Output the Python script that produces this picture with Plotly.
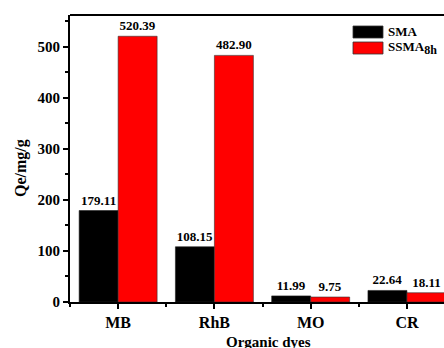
import plotly.graph_objects as go

categories = ["MB", "RhB", "MO", "CR"]
sma = [179.11, 108.15, 11.99, 22.64]
ssma = [520.39, 482.90, 9.75, 18.11]
y_ticks = [0, 100, 200, 300, 400, 500]

xpos = list(range(len(categories)))
FONT = "Liberation Serif, Times New Roman, serif"

fig = go.Figure()
fig.add_trace(go.Bar(x=xpos, y=sma, name="SMA", marker=dict(color="black", line=dict(color="#222", width=0.6)),
                     text=[f"{v:.2f}" for v in sma], textposition="outside", cliponaxis=False,
                     textfont=dict(family=FONT, size=13, color="black", weight="bold")))
fig.add_trace(go.Bar(x=xpos, y=ssma, name="SSMA<sub>8h</sub>", marker=dict(color="#ff0000", line=dict(color="#333", width=0.6)),
                     text=[f"{v:.2f}" for v in ssma], textposition="outside", cliponaxis=False,
                     textfont=dict(family=FONT, size=13, color="black", weight="bold")))

fig.update_layout(
    width=444, height=348,
    margin=dict(l=70, r=0, t=15, b=46),
    paper_bgcolor="white", plot_bgcolor="white",
    barmode="group", bargap=0.19, bargroupgap=0,
    showlegend=False,
    font=dict(family=FONT, color="black"),
)
fig.update_xaxes(
    range=[-0.5, 3.385], tickmode="array", tickvals=xpos, ticktext=categories,
    tickfont=dict(family=FONT, size=16, color="black", weight="bold"),
    showline=True, linecolor="black", linewidth=2, ticks="outside", ticklen=5, tickwidth=1.5,
    tickcolor="black", showgrid=False, zeroline=False, automargin=False,
    minor=dict(tickmode="linear", tick0=0.5, dtick=1, ticks="outside", ticklen=3, tickwidth=1.5, tickcolor="black"),
)
fig.update_yaxes(
    range=[0, 562], tickmode="array", tickvals=y_ticks,
    tickfont=dict(family=FONT, size=15, color="black", weight="bold"),
    showline=True, linecolor="black", linewidth=2, ticks="outside", ticklen=5, tickwidth=1.5,
    tickcolor="black", showgrid=False, zeroline=False, automargin=False,
    minor=dict(tickmode="linear", tick0=50, dtick=100, ticks="outside", ticklen=3, tickwidth=1.5, tickcolor="black"),
)
# top frame line
fig.add_shape(type="line", xref="paper", yref="paper", x0=0, x1=1, y0=1, y1=1, line=dict(color="black", width=2))

PW, PH = 374, 287
def px(x):
    return (x - 70) / PW
def py(y):
    return 1 - (y - 15) / PH

# axis titles
fig.add_annotation(text="<b>Qe/mg/g</b>", xref="paper", yref="paper", x=px(21), y=py(168), showarrow=False,
                   textangle=-90, font=dict(family=FONT, size=16, color="black"), xanchor="center", yanchor="middle")
fig.add_annotation(text="<b>Organic dyes</b>", xref="paper", yref="paper", x=px(268), y=py(332), showarrow=False,
                   font=dict(family=FONT, size=15, color="black"), xanchor="center", yanchor="top")

# legend (drawn)
leg = [("SMA", "black"), ("SSMA<sub><span style='font-size:12px'>8h</span></sub>", "#ff0000")]
for i, (name, col) in enumerate(leg):
    y_top = 26 + i * 16
    fig.add_shape(type="rect", xref="paper", yref="paper",
                  x0=px(353), x1=px(383), y0=py(y_top), y1=py(y_top + 12),
                  fillcolor=col, line=dict(color="#333", width=0.8))
    fig.add_annotation(text=f"<b>{name}</b>", xref="paper", yref="paper", x=px(386),
                       y=py(y_top + 6), showarrow=False, xanchor="left", yanchor="middle",
                       font=dict(family=FONT, size=13, color="black"))

fig.write_html("out.html", config={"displayModeBar": False},
               post_script="document.body.style.margin='0px';document.body.style.padding='0px';")
